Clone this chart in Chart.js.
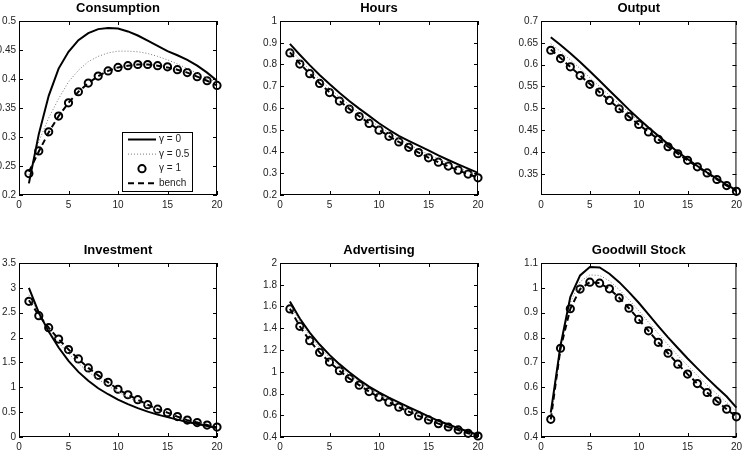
<!DOCTYPE html>
<html>
<head>
<meta charset="utf-8">
<script src="https://cdn.jsdelivr.net/npm/chart.js@4"></script>
<style>
  html, body { margin: 0; padding: 0; background: #fff; }
  #page { position: relative; width: 746px; height: 470px; overflow: hidden; }
  .panel { position: absolute; }
</style>
</head>
<body>
<div id="page">
  <div class="panel" style="left:0px;top:1px;width:248px;height:234px"><canvas id="c1"></canvas></div>
  <div class="panel" style="left:248px;top:1px;width:248px;height:234px"><canvas id="c2"></canvas></div>
  <div class="panel" style="left:496px;top:1px;width:250px;height:234px"><canvas id="c3"></canvas></div>
  <div class="panel" style="left:0px;top:243px;width:248px;height:227px"><canvas id="c4"></canvas></div>
  <div class="panel" style="left:248px;top:243px;width:248px;height:227px"><canvas id="c5"></canvas></div>
  <div class="panel" style="left:496px;top:243px;width:250px;height:227px"><canvas id="c6"></canvas></div>
</div>
<script>
// ================= DATA =================
const periods = [1, 2, 3, 4, 5, 6, 7, 8, 9, 10, 11, 12, 13, 14, 15, 16, 17, 18, 19, 20];
const seriesLabels = ["γ = 0", "γ = 0.5", "γ = 1", "bench"];
const xTicks = [0, 5, 10, 15, 20];

// Consumption
const consG0   = [0.220, 0.305, 0.371, 0.418, 0.447, 0.467, 0.479, 0.486, 0.488, 0.487, 0.482, 0.475, 0.466, 0.457, 0.448, 0.441, 0.433, 0.423, 0.411, 0.397];
const consG05  = [0.235, 0.292, 0.333, 0.366, 0.395, 0.415, 0.430, 0.439, 0.445, 0.448, 0.448, 0.447, 0.444, 0.439, 0.433, 0.426, 0.418, 0.410, 0.402, 0.394];
const consG1   = [0.237, 0.276, 0.309, 0.336, 0.359, 0.378, 0.393, 0.405, 0.414, 0.420, 0.423, 0.425, 0.425, 0.423, 0.421, 0.416, 0.411, 0.404, 0.397, 0.389];
const consBench = [0.240, 0.275, 0.308, 0.336, 0.359, 0.378, 0.393, 0.405, 0.414, 0.420, 0.423, 0.425, 0.425, 0.423, 0.420, 0.416, 0.411, 0.404, 0.397, 0.389];
const consTicks = [0.2, 0.25, 0.3, 0.35, 0.4, 0.45, 0.5];

// Hours
const hoursG0   = [0.895, 0.845, 0.797, 0.752, 0.710, 0.670, 0.632, 0.597, 0.564, 0.530, 0.500, 0.472, 0.449, 0.427, 0.405, 0.382, 0.361, 0.341, 0.321, 0.302];
const hoursG05  = [0.872, 0.822, 0.776, 0.732, 0.690, 0.651, 0.614, 0.579, 0.546, 0.515, 0.486, 0.459, 0.433, 0.409, 0.386, 0.365, 0.345, 0.326, 0.307, 0.289];
const hoursG1   = [0.853, 0.802, 0.758, 0.713, 0.671, 0.632, 0.595, 0.561, 0.529, 0.498, 0.470, 0.444, 0.419, 0.395, 0.371, 0.351, 0.333, 0.314, 0.296, 0.279];
const hoursBench = [0.856, 0.804, 0.758, 0.714, 0.672, 0.633, 0.596, 0.562, 0.530, 0.499, 0.471, 0.444, 0.419, 0.395, 0.372, 0.351, 0.332, 0.314, 0.296, 0.280];
const hoursTicks = [0.2, 0.3, 0.4, 0.5, 0.6, 0.7, 0.8, 0.9, 1];

// Output
const outG0   = [0.663, 0.645, 0.626, 0.606, 0.585, 0.563, 0.541, 0.519, 0.497, 0.476, 0.456, 0.437, 0.418, 0.400, 0.384, 0.368, 0.353, 0.339, 0.325, 0.312];
const outG05  = [0.648, 0.630, 0.611, 0.591, 0.570, 0.550, 0.530, 0.510, 0.490, 0.471, 0.452, 0.434, 0.417, 0.400, 0.384, 0.368, 0.353, 0.339, 0.325, 0.311];
const outG1   = [0.633, 0.614, 0.595, 0.575, 0.555, 0.537, 0.518, 0.499, 0.481, 0.463, 0.446, 0.429, 0.412, 0.396, 0.381, 0.366, 0.352, 0.337, 0.323, 0.310];
const outBench = [0.635, 0.615, 0.595, 0.575, 0.556, 0.537, 0.518, 0.499, 0.481, 0.463, 0.446, 0.429, 0.412, 0.396, 0.381, 0.366, 0.352, 0.337, 0.323, 0.310];
const outTicks = [0.35, 0.4, 0.45, 0.5, 0.55, 0.6, 0.65, 0.7];

// Investment
const invG0   = [3.00, 2.50, 2.12, 1.80, 1.53, 1.31, 1.13, 0.98, 0.86, 0.75, 0.66, 0.58, 0.51, 0.45, 0.40, 0.35, 0.30, 0.26, 0.22, 0.18];
const invG05  = [2.86, 2.47, 2.17, 1.90, 1.68, 1.48, 1.31, 1.16, 1.03, 0.91, 0.80, 0.71, 0.62, 0.55, 0.48, 0.41, 0.35, 0.30, 0.25, 0.20];
const invG1   = [2.73, 2.44, 2.20, 1.97, 1.76, 1.57, 1.39, 1.24, 1.10, 0.96, 0.85, 0.75, 0.65, 0.56, 0.49, 0.41, 0.34, 0.29, 0.24, 0.20];
const invBench = [2.75, 2.45, 2.20, 1.97, 1.76, 1.57, 1.39, 1.24, 1.10, 0.96, 0.85, 0.75, 0.65, 0.56, 0.49, 0.41, 0.34, 0.29, 0.24, 0.19];
const invTicks = [0, 0.5, 1, 1.5, 2, 2.5, 3, 3.5];

// Advertising
const advG0   = [1.645, 1.490, 1.360, 1.250, 1.155, 1.070, 0.995, 0.925, 0.863, 0.810, 0.762, 0.718, 0.675, 0.633, 0.590, 0.549, 0.515, 0.482, 0.450, 0.418];
const advG05  = [1.620, 1.460, 1.330, 1.220, 1.130, 1.045, 0.970, 0.905, 0.845, 0.790, 0.742, 0.698, 0.657, 0.618, 0.580, 0.545, 0.512, 0.480, 0.450, 0.415];
const advG1   = [1.578, 1.418, 1.286, 1.178, 1.089, 1.009, 0.938, 0.877, 0.818, 0.766, 0.720, 0.674, 0.634, 0.594, 0.557, 0.523, 0.492, 0.465, 0.434, 0.409];
const advBench = [1.580, 1.418, 1.286, 1.178, 1.089, 1.009, 0.938, 0.877, 0.818, 0.766, 0.720, 0.674, 0.634, 0.594, 0.557, 0.523, 0.492, 0.465, 0.434, 0.409];
const advTicks = [0.4, 0.6, 0.8, 1, 1.2, 1.4, 1.6, 1.8, 2];

// Goodwill Stock
const gwG0   = [0.498, 0.768, 0.963, 1.050, 1.084, 1.082, 1.057, 1.023, 0.983, 0.940, 0.893, 0.846, 0.801, 0.758, 0.716, 0.676, 0.637, 0.599, 0.563, 0.518];
const gwG05  = [0.480, 0.765, 0.940, 1.025, 1.052, 1.050, 1.028, 0.993, 0.952, 0.908, 0.862, 0.816, 0.771, 0.728, 0.687, 0.647, 0.609, 0.573, 0.539, 0.502];
const gwG1   = [0.471, 0.757, 0.916, 0.995, 1.023, 1.019, 0.996, 0.960, 0.918, 0.873, 0.827, 0.781, 0.737, 0.693, 0.653, 0.615, 0.579, 0.544, 0.512, 0.481];
const gwBench = [0.471, 0.757, 0.916, 0.995, 1.023, 1.019, 0.996, 0.960, 0.918, 0.873, 0.827, 0.781, 0.737, 0.693, 0.653, 0.615, 0.579, 0.544, 0.512, 0.481];
const gwTicks = [0.4, 0.5, 0.6, 0.7, 0.8, 0.9, 1, 1.1];

// ================= HELPERS =================
const FONT = "'Liberation Sans', Arial, Helvetica, sans-serif";

function toPoints(values) {
  return values.map((v, i) => ({ x: periods[i], y: v }));
}

// matlab style labels: 0.5, 1, 1.1 (no padded zeros)
function plainLabel(value) {
  return String(Number(value.toFixed(4)));
}

function buildDatasets(g0, g05, g1, bench) {
  return [
    { label: seriesLabels[0], data: toPoints(g0), borderColor: "#000", borderWidth: 2,
      pointRadius: 0, order: 1, clip: false },
    { label: seriesLabels[1], data: toPoints(g05), borderColor: "#777", borderWidth: 1,
      borderDash: [1, 2], pointRadius: 0, order: 2, clip: false },
    { label: seriesLabels[2], data: toPoints(g1), borderColor: "#000", showLine: false,
      pointRadius: 3.6, pointBorderWidth: 2, pointBackgroundColor: "rgba(0,0,0,0)",
      pointBorderColor: "#000", order: 3, clip: false },
    { label: seriesLabels[3], data: toPoints(bench), borderColor: "#000", borderWidth: 2,
      borderDash: [6, 4], pointRadius: 0, order: 0, clip: false }
  ];
}

// box + inward ticks on all four sides
const boxPlugin = {
  id: "box",
  beforeDatasetsDraw(chart) {
    const { ctx, chartArea: a, scales } = chart;
    const len = 4;
    ctx.save();
    ctx.strokeStyle = "#000";
    ctx.lineWidth = 1;
    ctx.strokeRect(a.left + 0.5, a.top + 0.5, a.right - a.left - 1, a.bottom - a.top - 1);
    ctx.beginPath();
    scales.x.ticks.forEach(t => {
      const px = Math.round(scales.x.getPixelForValue(t.value)) + 0.5;
      ctx.moveTo(px, a.bottom); ctx.lineTo(px, a.bottom - len);
      ctx.moveTo(px, a.top); ctx.lineTo(px, a.top + len);
    });
    scales.y.ticks.forEach(t => {
      const py = Math.round(scales.y.getPixelForValue(t.value)) + 0.5;
      ctx.moveTo(a.left, py); ctx.lineTo(a.left + len, py);
      ctx.moveTo(a.right, py); ctx.lineTo(a.right - len, py);
    });
    ctx.stroke();
    ctx.restore();
  }
};

// legend drawn inside the plot box
const insideLegend = {
  id: "insideLegend",
  afterDatasetsDraw(chart, args, opts) {
    if (!opts.show) return;
    const { ctx, chartArea: a } = chart;
    const w = 70, h = 59;
    const x0 = a.right - opts.right - w;
    const y0 = a.bottom - opts.bottom - h;
    ctx.save();
    ctx.fillStyle = "#fff";
    ctx.fillRect(x0, y0, w, h);
    ctx.strokeStyle = "#000";
    ctx.lineWidth = 1;
    ctx.strokeRect(x0 + 0.5, y0 + 0.5, w, h);
    ctx.font = "10px " + FONT;
    ctx.textBaseline = "middle";
    chart.data.datasets.forEach((ds, i) => {
      const cy = y0 + 7.5 + i * 14.6;
      if (ds.showLine === false) {
        ctx.beginPath();
        ctx.lineWidth = ds.pointBorderWidth;
        ctx.strokeStyle = ds.pointBorderColor;
        ctx.arc(x0 + 20, cy, ds.pointRadius, 0, Math.PI * 2);
        ctx.stroke();
      } else {
        ctx.beginPath();
        ctx.lineWidth = ds.borderWidth;
        ctx.strokeStyle = ds.borderColor;
        ctx.setLineDash(ds.borderDash || []);
        ctx.moveTo(x0 + 6, cy);
        ctx.lineTo(x0 + 34, cy);
        ctx.stroke();
        ctx.setLineDash([]);
      }
      ctx.fillStyle = "#222";
      ctx.fillText(ds.label, x0 + 37, cy);
    });
    ctx.restore();
  }
};

function makePanel(id, title, datasets, yMin, yMax, yTicks, axisLeft, padRight, xAxisHeight, withLegend) {
  new Chart(document.getElementById(id), {
    type: "line",
    data: { datasets },
    plugins: [boxPlugin, insideLegend],
    options: {
      responsive: true,
      maintainAspectRatio: false,
      animation: false,
      layout: { padding: { left: 0, right: padRight, top: 0, bottom: 0 } },
      plugins: {
        legend: { display: false },
        tooltip: { enabled: false },
        title: {
          display: true, text: title, fullSize: false, color: "#000",
          font: { family: FONT, size: 13, weight: "bold", lineHeight: 1.2 },
          padding: { top: 0, bottom: 4.4 }
        },
        insideLegend: { show: withLegend, right: 25, bottom: 4 }
      },
      scales: {
        x: {
          type: "linear", min: 0, max: 20,
          afterBuildTicks: s => { s.ticks = xTicks.map(v => ({ value: v })); },
          afterFit: s => { s.height = xAxisHeight; },
          grid: { display: false, drawTicks: false }, border: { display: false },
          ticks: { color: "#222", font: { family: FONT, size: 10 }, padding: 4, maxRotation: 0,
                   callback: plainLabel }
        },
        y: {
          type: "linear", min: yMin, max: yMax,
          afterBuildTicks: s => { s.ticks = yTicks.map(v => ({ value: v })); },
          afterFit: s => { s.width = axisLeft; },
          grid: { display: false, drawTicks: false }, border: { display: false },
          ticks: { color: "#222", font: { family: FONT, size: 10 }, padding: 3,
                   callback: plainLabel }
        }
      }
    }
  });
}

// ================= PANELS =================
makePanel("c1", "Consumption", buildDatasets(consG0, consG05, consG1, consBench), 0.2, 0.5, consTicks, 19, 31, 40, true);
makePanel("c2", "Hours", buildDatasets(hoursG0, hoursG05, hoursG1, hoursBench), 0.2, 1, hoursTicks, 32, 18, 40, false);
makePanel("c3", "Output", buildDatasets(outG0, outG05, outG1, outBench), 0.3015, 0.7, outTicks, 45, 7, 40, false);
makePanel("c4", "Investment", buildDatasets(invG0, invG05, invG1, invBench), 0, 3.5, invTicks, 19, 31, 33, false);
makePanel("c5", "Advertising", buildDatasets(advG0, advG05, advG1, advBench), 0.4, 2, advTicks, 32, 18, 33, false);
makePanel("c6", "Goodwill Stock", buildDatasets(gwG0, gwG05, gwG1, gwBench), 0.4, 1.1, gwTicks, 45, 7, 33, false);
</script>
</body>
</html>
